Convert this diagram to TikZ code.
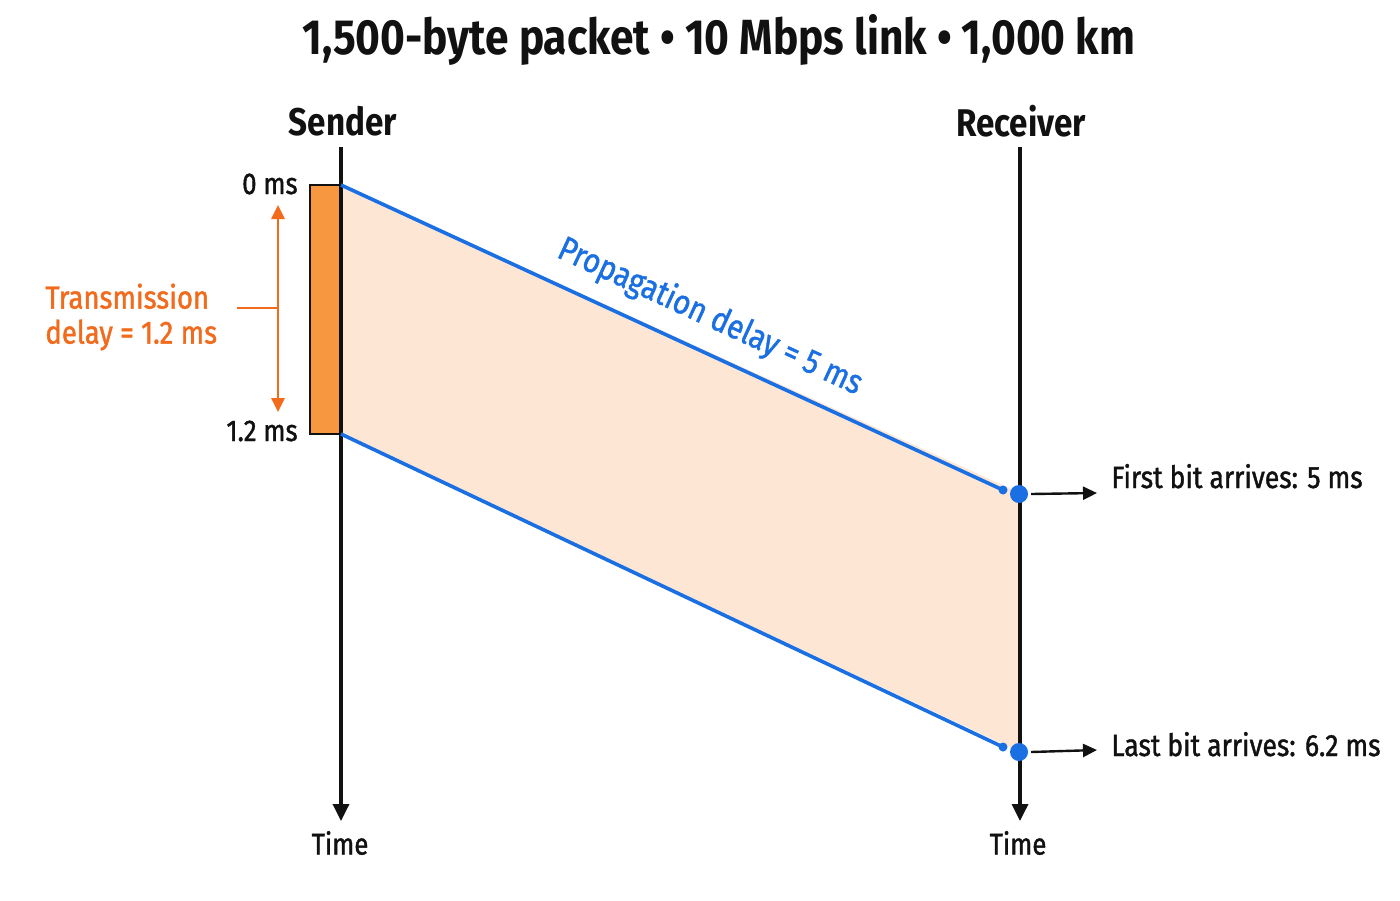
\documentclass[tikz,border=0pt]{standalone}
\usepackage{fontspec}
\setmainfont{Fira Sans}[FakeStretch=0.86]
\newfontfamily\medfont{Fira Sans}[FakeStretch=0.86,FakeBold=1.3]
\usetikzlibrary{arrows.meta}
\definecolor{blueL}{HTML}{1A6FE3}
\definecolor{orangeT}{HTML}{F26B1D}
\definecolor{orangeR}{HTML}{F7973F}
\definecolor{peach}{HTML}{FDE6D4}
\definecolor{ink}{HTML}{111111}
\begin{document}
\begin{tikzpicture}[x=0.5pt,y=-0.5pt,
  timeline/.style={draw=ink,line width=1.7pt,-{Triangle[length=8.5pt,width=8pt]}},
  bluepath/.style={draw=blueL,line width=1.8pt},
  bigdot/.style={circle,fill=blueL,inner sep=0pt,minimum size=9pt},
  smalldot/.style={circle,fill=blueL,inner sep=0pt,minimum size=4.5pt},
  outarrow/.style={draw=ink,line width=1.2pt,-{Triangle[length=7pt,width=6.5pt]}},
  headlbl/.style={font=\fontsize{19.3}{22}\selectfont\bfseries,text=ink},
  axislbl/.style={font=\medfont\fontsize{15}{17}\selectfont,text=ink},
  arrlbl/.style={font=\medfont\fontsize{15.4}{18}\selectfont,text=ink,anchor=base west,inner sep=0pt},
  msl/.style={font=\medfont\fontsize{15}{17}\selectfont,text=ink,anchor=east,inner sep=0pt},
  txlbl/.style={font=\medfont\fontsize{16}{17.5}\selectfont,text=orangeT,align=left,anchor=west,inner sep=0pt},
  proplbl/.style={font=\medfont\fontsize{17}{20}\selectfont,text=blueL,rotate=-24.7},
  dlarrow/.style={draw=orangeT,line width=1.3pt,{Triangle[length=7pt,width=6.5pt]}-{Triangle[length=7pt,width=6.5pt]}},
]
\useasboundingbox[fill=white] (0,0) rectangle (1400,900);

% coordinates
\coordinate (s0) at (341,185);
\coordinate (s1) at (341,434);
\coordinate (r0) at (1020,493);
\coordinate (r1) at (1020,752);
\coordinate (sTop) at (341,147);
\coordinate (sBot) at (341,821);
\coordinate (rTop) at (1020,147);
\coordinate (rBot) at (1020,821);

% shaded band
\fill[peach] (s0) -- (r0) -- (r1) -- (s1) -- cycle;

% orange transmission block
\draw[fill=orangeR,draw=ink,line width=0.8pt] (310,185) rectangle (341,434);

% timelines
\draw[timeline] (sTop) -- (sBot);
\draw[timeline] (rTop) -- (rBot);

% title and headers
\node[font=\fontsize{24.7}{28}\selectfont\bfseries,text=ink] (title) at (719,40) {1,500-byte packet • 10 Mbps link • 1,000 km};
\node[headlbl] (sender) at (343,121) {Sender};
\node[headlbl] (receiver) at (1021,121) {Receiver};
\node[axislbl] (stime) at (340,843) {Time};
\node[axislbl] (rtime) at (1018,843) {Time};

% ms labels
\node[msl] (ms0) at (298,184) {0 ms};
\node[msl] (ms12) at (298,431) {1.2 ms};

% transmission delay marker
\coordinate (da) at (278,205);
\coordinate (db) at (278,412);
\coordinate (dm) at (278,308);
\coordinate (dt) at (237,308);
\draw[dlarrow] (da) -- (db);
\draw[draw=orangeT,line width=1.3pt] (dt) -- (dm);
\node[txlbl] (tx) at (45,317) {Transmission\\delay = 1.2 ms};

% blue propagation lines
\node[smalldot] (sd0) at (1003,490) {};
\node[smalldot] (sd1) at (1003,747) {};
\draw[bluepath] (s0) -- (sd0.center);
\draw[bluepath] (s1) -- (sd1.center);
\node[bigdot] (bd0) at (1019,494) {};
\node[bigdot] (bd1) at (1019,752) {};
\node[proplbl] (prop) at (710,317) {Propagation delay = 5 ms};

% arrival arrows
\coordinate (a0) at (1097,493);
\coordinate (a1) at (1097,750);
\draw[outarrow] ([xshift=6pt]bd0.center) -- (a0);
\draw[outarrow] ([xshift=6pt]bd1.center) -- (a1);
\node[arrlbl] (first) at (1111,488) {First bit arrives: 5 ms};
\node[arrlbl] (last) at (1111,756) {Last bit arrives: 6.2 ms};
\end{tikzpicture}
\end{document}
